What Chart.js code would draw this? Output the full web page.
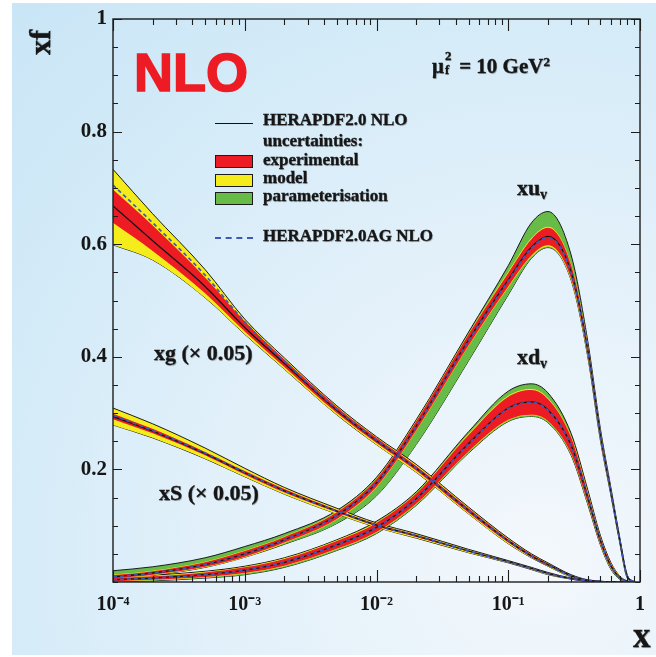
<!DOCTYPE html>
<html>
<head>
<meta charset="utf-8">
<script src="https://cdn.jsdelivr.net/npm/chart.js"></script>
<style>
  body { margin: 0; background: #fff; }
  #wrap { position: relative; width: 656px; height: 657px; overflow: hidden; }
  #panel { position: absolute; left: 12px; top: 3px; right: 0; bottom: 2px;
    background: radial-gradient(circle at 82% 85%, #f3f8fc 0%, #e4f1fa 38%, #d4ebf8 72%, #c9e5f6 100%); }
  canvas { position: absolute; left: 0; top: 0; }
  .t { position: absolute; font-family: "Liberation Serif", "Times New Roman", serif; font-weight: bold;
       color: #161616; white-space: nowrap; line-height: 1;
       -webkit-text-stroke: 0.35px #161616; text-shadow: 0.7px 0.7px 0.8px rgba(0,0,0,0.3); }
  .t sub { font-size: 0.62em; vertical-align: -0.32em; line-height: 0; }
  .t sup { font-size: 0.62em; vertical-align: 0.55em; line-height: 0; }
  .ss { display: inline-block; position: relative; width: 10px; height: 1em; }
  .ss span { position: absolute; left: 1px; font-size: 13px; line-height: 1; }
  #nlo { position: absolute; left: 134px; top: 45px; font: bold 54px "Liberation Sans", Arial, sans-serif;
         color: #ed1c24; line-height: 1; -webkit-text-stroke: 1.6px #ed1c24; }
  .leg { font-size: 17px; }
  .sw { position: absolute; left: 215px; width: 36px; height: 11px; border: 1.5px solid #1b1b1b; }
  .ln { position: absolute; left: 215px; width: 38px; height: 0; }
</style>
</head>
<body>
<div id="wrap">
  <div id="panel"></div>
  <canvas id="pdfChart" width="656" height="657"></canvas>

  <div class="t" style="left:25px; top:55px; font-size:30px; transform-origin:left top; transform:rotate(-90deg);">xf</div>
  <div class="t" style="left:633px; top:618px; font-size:35px;">x</div>
  <div id="nlo">NLO</div>
  <div class="t" style="left:432px; top:52px; font-size:21px;">μ<span class="ss"><span style="top:-3px">2</span><span style="top:11px">f</span></span> = 10 GeV<sup>2</sup></div>

  <div class="ln" style="top:123px; border-top:1.5px solid #111;"></div>
  <div class="t leg" style="left:263px; top:111px;">HERAPDF2.0 NLO</div>
  <div class="t leg" style="left:263px; top:132px;">uncertainties:</div>
  <div class="sw" style="top:155px; background:#ed1c24;"></div>
  <div class="t leg" style="left:263px; top:151px;">experimental</div>
  <div class="sw" style="top:174px; background:#f5ec1b;"></div>
  <div class="t leg" style="left:263px; top:169px;">model</div>
  <div class="sw" style="top:192px; background:#67bb47;"></div>
  <div class="t leg" style="left:263px; top:187px;">parameterisation</div>
  <div class="ln" style="top:237px; border-top:2px dashed #3c58b8;"></div>
  <div class="t leg" style="left:263px; top:227px;">HERAPDF2.0AG NLO</div>

  <div class="t" style="left:517px; top:177px; font-size:22px;">xu<sub>v</sub></div>
  <div class="t" style="left:517px; top:346px; font-size:22px;">xd<sub>v</sub></div>
  <div class="t" style="left:154px; top:342px; font-size:22px;">xg (× 0.05)</div>
  <div class="t" style="left:159px; top:482px; font-size:22px;">xS (× 0.05)</div>
</div>

<script>
// HERAPDF2.0 NLO parton densities at mu_f^2 = 10 GeV^2
const xGrid = [1e-4, 2e-4, 5e-4, 1e-3, 2e-3, 5e-3, 1e-2, 2e-2, 5e-2, 0.1, 0.15, 0.2, 0.3, 0.4, 0.5, 0.6, 0.7, 0.8, 0.9];

// xu_v
const uvCentral = [0.009, 0.016, 0.031, 0.050, 0.075, 0.118, 0.176, 0.277, 0.430, 0.537, 0.595, 0.614, 0.551, 0.414, 0.262, 0.162, 0.076, 0.010, 0];
const uvAG      = [0.009, 0.016, 0.031, 0.050, 0.075, 0.118, 0.176, 0.277, 0.429, 0.535, 0.593, 0.612, 0.550, 0.414, 0.262, 0.162, 0.076, 0.010, 0];
const uvExpLo   = [0.006, 0.013, 0.027, 0.045, 0.070, 0.112, 0.169, 0.269, 0.420, 0.525, 0.580, 0.598, 0.539, 0.405, 0.255, 0.157, 0.073, 0.008, 0];
const uvExpHi   = [0.012, 0.019, 0.035, 0.055, 0.080, 0.124, 0.183, 0.285, 0.440, 0.549, 0.609, 0.629, 0.563, 0.423, 0.269, 0.167, 0.079, 0.012, 0.001];
const uvModLo   = [0.005, 0.012, 0.026, 0.044, 0.069, 0.111, 0.168, 0.268, 0.419, 0.523, 0.578, 0.596, 0.537, 0.403, 0.253, 0.156, 0.072, 0.007, 0];
const uvModHi   = [0.013, 0.020, 0.036, 0.056, 0.081, 0.125, 0.184, 0.286, 0.441, 0.551, 0.611, 0.631, 0.565, 0.425, 0.271, 0.168, 0.080, 0.013, 0.001];
const uvParLo   = [0.005, 0.012, 0.026, 0.044, 0.067, 0.104, 0.153, 0.244, 0.393, 0.510, 0.575, 0.594, 0.536, 0.402, 0.252, 0.155, 0.071, 0.007, 0];
const uvParHi   = [0.020, 0.027, 0.043, 0.063, 0.086, 0.127, 0.186, 0.288, 0.444, 0.562, 0.638, 0.658, 0.581, 0.430, 0.273, 0.169, 0.081, 0.013, 0.001];

// xd_v
const dvCentral = [0.004, 0.007, 0.013, 0.021, 0.035, 0.066, 0.097, 0.148, 0.246, 0.309, 0.320, 0.306, 0.243, 0.151, 0.074, 0.029, 0.008, 0.001, 0];
const dvAG      = [0.004, 0.007, 0.013, 0.021, 0.035, 0.066, 0.097, 0.148, 0.245, 0.308, 0.319, 0.305, 0.242, 0.151, 0.074, 0.029, 0.008, 0.001, 0];
const dvExpLo   = [0.001, 0.004, 0.009, 0.016, 0.029, 0.059, 0.089, 0.139, 0.232, 0.288, 0.297, 0.286, 0.228, 0.142, 0.068, 0.025, 0.006, 0.0005, 0];
const dvExpHi   = [0.007, 0.010, 0.017, 0.026, 0.041, 0.073, 0.105, 0.157, 0.261, 0.329, 0.341, 0.325, 0.257, 0.160, 0.080, 0.033, 0.010, 0.0015, 0];
const dvModLo   = [0.001, 0.003, 0.008, 0.015, 0.028, 0.058, 0.088, 0.138, 0.231, 0.287, 0.296, 0.285, 0.227, 0.141, 0.067, 0.024, 0.006, 0.0004, 0];
const dvModHi   = [0.008, 0.011, 0.018, 0.027, 0.042, 0.074, 0.106, 0.158, 0.263, 0.331, 0.343, 0.327, 0.259, 0.162, 0.081, 0.034, 0.011, 0.0017, 0];
const dvParLo   = [0.000, 0.002, 0.007, 0.013, 0.026, 0.056, 0.086, 0.136, 0.229, 0.285, 0.294, 0.283, 0.225, 0.139, 0.066, 0.023, 0.005, 0.0003, 0];
const dvParHi   = [0.009, 0.012, 0.019, 0.028, 0.043, 0.075, 0.108, 0.160, 0.267, 0.339, 0.352, 0.336, 0.264, 0.165, 0.083, 0.035, 0.011, 0.002, 0];

// xS x 0.05
const sCentral = [0.294, 0.268, 0.228, 0.194, 0.162, 0.126, 0.101, 0.082, 0.055, 0.036, 0.024, 0.015, 0.006, 0.002, 0.0005, 0, 0, 0, 0];
const sAG      = [0.296, 0.269, 0.229, 0.195, 0.162, 0.126, 0.101, 0.082, 0.055, 0.036, 0.024, 0.015, 0.006, 0.002, 0.0005, 0, 0, 0, 0];
const sExpLo   = [0.289, 0.264, 0.225, 0.191, 0.159, 0.124, 0.099, 0.080, 0.054, 0.035, 0.023, 0.014, 0.0055, 0.0015, 0.0003, 0, 0, 0, 0];
const sExpHi   = [0.299, 0.272, 0.231, 0.197, 0.165, 0.128, 0.103, 0.084, 0.056, 0.037, 0.025, 0.016, 0.0065, 0.0025, 0.0007, 0, 0, 0, 0];
const sModLo   = [0.279, 0.256, 0.219, 0.187, 0.156, 0.121, 0.097, 0.078, 0.052, 0.034, 0.022, 0.013, 0.005, 0.001, 0, 0, 0, 0, 0];
const sModHi   = [0.309, 0.281, 0.238, 0.202, 0.168, 0.131, 0.105, 0.086, 0.058, 0.038, 0.026, 0.017, 0.007, 0.003, 0.001, 0, 0, 0, 0];

// xg x 0.05
const gCentral = [0.668, 0.606, 0.525, 0.452, 0.388, 0.305, 0.251, 0.202, 0.127, 0.073, 0.046, 0.031, 0.011, 0.003, 0.001, 0, 0, 0, 0];
const gAG      = [0.705, 0.638, 0.545, 0.462, 0.392, 0.307, 0.252, 0.202, 0.127, 0.073, 0.046, 0.030, 0.011, 0.003, 0.001, 0, 0, 0, 0];
const gExpLo   = [0.638, 0.588, 0.513, 0.445, 0.382, 0.300, 0.247, 0.198, 0.123, 0.070, 0.044, 0.029, 0.010, 0.002, 0.0005, 0, 0, 0, 0];
const gExpHi   = [0.697, 0.633, 0.541, 0.463, 0.395, 0.311, 0.256, 0.206, 0.131, 0.076, 0.049, 0.033, 0.012, 0.004, 0.0015, 0, 0, 0, 0];
const gModLo   = [0.599, 0.572, 0.505, 0.440, 0.378, 0.297, 0.244, 0.195, 0.121, 0.068, 0.043, 0.028, 0.009, 0.002, 0.0005, 0, 0, 0, 0];
const gModHi   = [0.733, 0.654, 0.555, 0.467, 0.398, 0.313, 0.258, 0.209, 0.133, 0.078, 0.050, 0.034, 0.013, 0.004, 0.0015, 0, 0, 0, 0];

// axis labels
const xDecades = [1e-4, 1e-3, 1e-2, 1e-1, 1];
const xDecadeLabels = ['10⁻⁴', '10⁻³', '10⁻²', '10⁻¹', '1'];
const yLabelValues = [0.2, 0.4, 0.6, 0.8, 1];
const yLabels = ['0.2', '0.4', '0.6', '0.8', '1'];

const RED = '#ed1c24', YELLOW = '#f5ec1b', GREEN = '#67bb47', BLUE = '#3c58b8', INK = '#161616';

function toPoints(ys) {
    return xGrid.map((x, i) => ({ x: x, y: ys[i] }));
}

// hi edge fills down to the lo edge pushed right after it
function addBand(list, lo, hi, color, order, outline) {
    const edge = outline ? '#1b1b1b' : 'rgba(0,0,0,0)';
    list.push({ data: toPoints(hi), fill: '+1', backgroundColor: color, borderColor: edge, borderWidth: 1, order: order });
    list.push({ data: toPoints(lo), fill: false, borderColor: edge, borderWidth: 1, order: order });
}

const pdfs = [
    { central: uvCentral, ag: uvAG, exp: [uvExpLo, uvExpHi], mod: [uvModLo, uvModHi], par: [uvParLo, uvParHi] },
    { central: dvCentral, ag: dvAG, exp: [dvExpLo, dvExpHi], mod: [dvModLo, dvModHi], par: [dvParLo, dvParHi] },
    { central: sCentral, ag: sAG, exp: [sExpLo, sExpHi], mod: [sModLo, sModHi], par: null },
    { central: gCentral, ag: gAG, exp: [gExpLo, gExpHi], mod: [gModLo, gModHi], par: null }
];

const datasets = [];
pdfs.forEach(p => {
    if (p.par) addBand(datasets, p.par[0], p.par[1], GREEN, 3, true);
    addBand(datasets, p.mod[0], p.mod[1], YELLOW, 2, !p.par);
    addBand(datasets, p.exp[0], p.exp[1], RED, 1, false);
    datasets.push({ data: toPoints(p.central), borderColor: INK, borderWidth: 1.3, fill: false, order: 0 });
    datasets.push({ data: toPoints(p.ag), borderColor: BLUE, borderWidth: 1.7, borderDash: [4, 3], fill: false, order: -1 });
});

// log ticks 1..9 per decade
const xTickValues = [];
xDecades.slice(0, -1).forEach(d => {
    for (let m = 1; m <= 9; m++) xTickValues.push(d * m);
});
xTickValues.push(1);

function isYMajor(v) {
    return yLabelValues.some(l => Math.abs(l - v) < 1e-6);
}

// frame plus inward tick marks on all four sides
const frameTicks = {
    id: 'frameTicks',
    afterDraw(chart) {
        const { ctx, chartArea: a, scales: { x, y } } = chart;
        ctx.save();
        ctx.strokeStyle = '#1d1d1d';
        ctx.lineWidth = 1.4;
        ctx.strokeRect(a.left, a.top, a.right - a.left, a.bottom - a.top);
        ctx.lineWidth = 1.1;
        ctx.beginPath();
        x.ticks.forEach(t => {
            const px = Math.round(x.getPixelForValue(t.value)) + 0.5;
            const len = xDecades.includes(t.value) ? 12 : 6;
            ctx.moveTo(px, a.bottom); ctx.lineTo(px, a.bottom - len);
            ctx.moveTo(px, a.top); ctx.lineTo(px, a.top + len);
        });
        y.ticks.forEach(t => {
            const py = Math.round(y.getPixelForValue(t.value)) + 0.5;
            const len = isYMajor(t.value) ? 9 : 5;
            ctx.moveTo(a.left, py); ctx.lineTo(a.left + len, py);
            ctx.moveTo(a.right, py); ctx.lineTo(a.right - len, py);
        });
        ctx.stroke();
        ctx.restore();
    }
};

const serif = '"Liberation Serif", "Times New Roman", serif';

new Chart(document.getElementById('pdfChart').getContext('2d'), {
    type: 'line',
    data: { datasets: datasets },
    options: {
        responsive: false,
        animation: false,
        layout: { padding: { top: 19, right: 10, left: 0, bottom: 0 } },
        elements: { point: { radius: 0 }, line: { cubicInterpolationMode: 'monotone' } },
        plugins: { legend: { display: false }, tooltip: { enabled: false } },
        scales: {
            x: {
                type: 'logarithmic', min: 1e-4, max: 1,
                grid: { display: false, drawTicks: false },
                border: { display: false },
                afterBuildTicks: s => { s.ticks = xTickValues.map(v => ({ value: v })); },
                afterFit: s => { s.height = 75; },
                ticks: {
                    autoSkip: false, maxRotation: 0, padding: 11, color: INK,
                    font: { family: serif, size: 20, weight: 'bold' },
                    callback: v => {
                        const i = xDecades.indexOf(v);
                        return i >= 0 ? xDecadeLabels[i] : '';
                    }
                }
            },
            y: {
                min: 0, max: 1,
                grid: { display: false, drawTicks: false },
                border: { display: false },
                afterFit: s => { s.width = 113; },
                ticks: {
                    stepSize: 0.05, autoSkip: false, padding: 6, color: INK,
                    font: { family: serif, size: 21, weight: 'bold' },
                    callback: v => {
                        const i = yLabelValues.findIndex(l => Math.abs(l - v) < 1e-6);
                        return i >= 0 ? yLabels[i] : '';
                    }
                }
            }
        }
    },
    plugins: [frameTicks]
});
</script>
</body>
</html>
